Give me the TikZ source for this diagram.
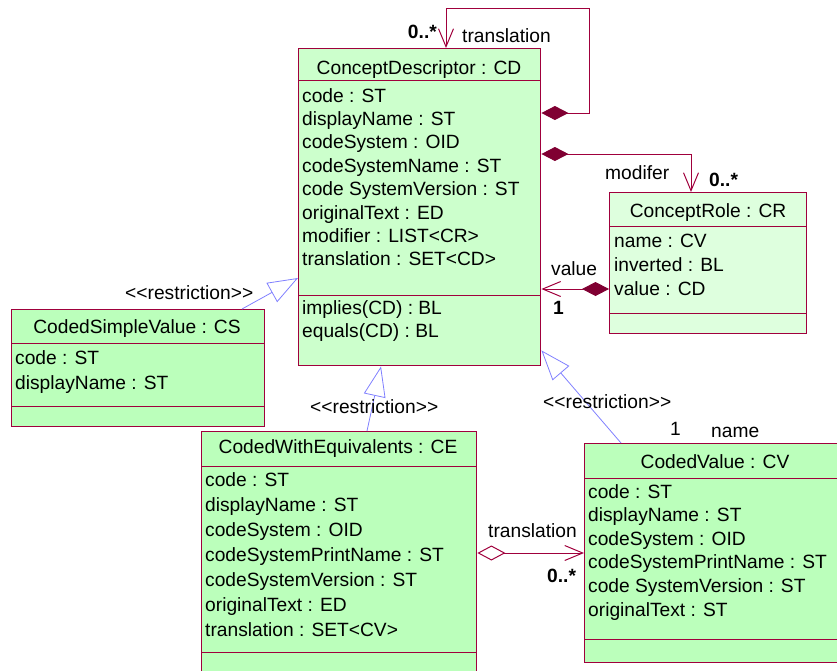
\documentclass[tikz,border=0pt]{standalone}
\usepackage{fontspec}
\setmainfont{Liberation Sans}
\usepackage{tikz}
\usetikzlibrary{arrows.meta}

\definecolor{umlborder}{RGB}{160,0,60}
\definecolor{umldiamond}{RGB}{128,0,50}
\definecolor{umlgen}{RGB}{128,128,255}
\definecolor{fillcd}{RGB}{204,255,204}
\definecolor{fillcr}{RGB}{222,255,222}
\definecolor{fillcv}{RGB}{187,255,187}

\begin{document}
\begin{tikzpicture}[x=1pt, y=-1pt,
    font=\fontsize{19.2}{23.5}\selectfont,
    classbox/.style={draw=umlborder, line width=1.4pt, rectangle, inner sep=0pt, anchor=north west},
    sep/.style={draw=umlborder, line width=1pt},
    hdr/.style={anchor=base, inner sep=0pt},
    attr/.style={anchor=base west, inner sep=0pt},
    lbl/.style={anchor=base west, inner sep=0pt},
    mult/.style={anchor=base west, inner sep=0pt, font=\fontsize{19.2}{23.5}\selectfont\bfseries},
    assoc/.style={draw=umlborder, line width=1pt},
    gen/.style={draw=umlgen, line width=0.8pt, -{Triangle[open, fill=white, length=30pt, width=22pt]}},
    comp/.style={{Diamond[length=27pt, width=14pt, color=umldiamond, fill=umldiamond]}-{Straight Barb[length=18pt, width=15pt]}},
    aggr/.style={{Diamond[open, length=28pt, width=15pt, fill=white]}-{Straight Barb[length=18pt, width=15pt]}}]
            \useasboundingbox (0,0) rectangle (837,670);

            % Nodes
            \node[classbox, fill=fillcd, minimum width=242, minimum height=317] (CD) at (298,48) {};
            \node[classbox, fill=fillcr, minimum width=197, minimum height=141] (CR) at (609,192) {};
            \node[classbox, fill=fillcv, minimum width=253, minimum height=117] (CS) at (11,309) {};
            \node[classbox, fill=fillcv, minimum width=275, minimum height=259] (CE) at (201,431) {};
            \node[classbox, fill=fillcv, minimum width=266, minimum height=219] (CV) at (584,443) {};

            % compartments
            \draw[sep] ([yshift=-32pt]CD.north west) -- ([yshift=-32pt]CD.north east);
            \draw[sep] ([yshift=-247pt]CD.north west) -- ([yshift=-247pt]CD.north east);
            \draw[sep] ([yshift=-34pt]CR.north west) -- ([yshift=-34pt]CR.north east);
            \draw[sep] ([yshift=-121pt]CR.north west) -- ([yshift=-121pt]CR.north east);
            \draw[sep] ([yshift=-34pt]CS.north west) -- ([yshift=-34pt]CS.north east);
            \draw[sep] ([yshift=-97pt]CS.north west) -- ([yshift=-97pt]CS.north east);
            \draw[sep] ([yshift=-35pt]CE.north west) -- ([yshift=-35pt]CE.north east);
            \draw[sep] ([yshift=-221pt]CE.north west) -- ([yshift=-221pt]CE.north east);
            \draw[sep] ([yshift=-35pt]CV.north west) -- ([yshift=-35pt]CV.north east);
            \draw[sep] ([yshift=-196pt]CV.north west) -- ([yshift=-196pt]CV.north east);

            \node[hdr] (CDname) at (419,74) {ConceptDescriptor : CD};
            \node[hdr] (CRname) at (708,217) {ConceptRole : CR};
            \node[hdr] (CSname) at (137,333) {CodedSimpleValue : CS};
            \node[hdr] (CEname) at (338,453) {CodedWithEquivalents : CE};
            \node[hdr] (CVname) at (715,468) {CodedValue : CV};

            \foreach \a [count=\i from 0] in {code : ST, displayName : ST, codeSystem : OID,
                codeSystemName : ST, code SystemVersion : ST, originalText : ED,
                modifier : LIST<CR>, translation : SET<CD>}
                \node[attr] (CDa\i) at (302,102+23.4*\i) {\a};
            \foreach \a [count=\i from 0] in {implies(CD) : BL, equals(CD) : BL}
                \node[attr] (CDm\i) at (302,314+23.4*\i) {\a};
            \foreach \a [count=\i from 0] in {name : CV, inverted : BL, value : CD}
                \node[attr] (CRa\i) at (614,247+24.4*\i) {\a};
            \foreach \a [count=\i from 0] in {code : ST, displayName : ST}
                \node[attr] (CSa\i) at (15,364+25*\i) {\a};
            \foreach \a [count=\i from 0] in {code : ST, displayName : ST, codeSystem : OID,
                codeSystemPrintName : ST, codeSystemVersion : ST, originalText : ED,
                translation : SET<CV>}
                \node[attr] (CEa\i) at (205,486+25*\i) {\a};
            \foreach \a [count=\i from 0] in {code : ST, displayName : ST, codeSystem : OID,
                codeSystemPrintName : ST, code SystemVersion : ST, originalText : ST}
                \node[attr] (CVa\i) at (588,498+23.6*\i) {\a};

            % Edges
            \draw[assoc, comp] ([yshift=-65pt]CD.north east) -- ++(48,0) -- ++(0,-105)
                -| ([xshift=148pt]CD.north west);
            \draw[assoc, comp] ([yshift=-106pt]CD.north east) -| ([xshift=82pt]CR.north west);
            \draw[assoc, comp] ([yshift=-97pt]CR.north west) -- ([yshift=-241pt]CD.north east);
            \draw[assoc, aggr] ([yshift=-122pt]CE.north east) -- ([yshift=-110pt]CV.north west);
            \draw[gen] ([xshift=231pt]CS.north west) -- ([yshift=-230pt]CD.north west);
            \draw[gen] ([xshift=166pt]CE.north west) -- ([xshift=83pt]CD.south west);
            \draw[gen] ([xshift=37pt]CV.north west) -- ([yshift=16pt]CD.south east);

            % labels
            \node[mult, anchor=base east] (m1) at (437,38) {0..*};
            \node[lbl] (r1) at (462,42) {translation};
            \node[lbl] (r2) at (605,179) {modifer};
            \node[mult] (m2) at (709,186) {0..*};
            \node[lbl] (r3) at (551,275) {value};
            \node[mult] (m3) at (553,314) {1};
            \node[lbl] (s1) at (125,299) {<{}<restriction>{}>};
            \node[lbl] (s2) at (310,413) {<{}<restriction>{}>};
            \node[lbl] (s3) at (543,408) {<{}<restriction>{}>};
            \node[lbl] (m4) at (670,435) {1};
            \node[lbl] (r4) at (711,437) {name};
            \node[lbl] (r5) at (488,537) {translation};
            \node[mult] (m5) at (547,582) {0..*};

        \end{tikzpicture}
\end{document}
